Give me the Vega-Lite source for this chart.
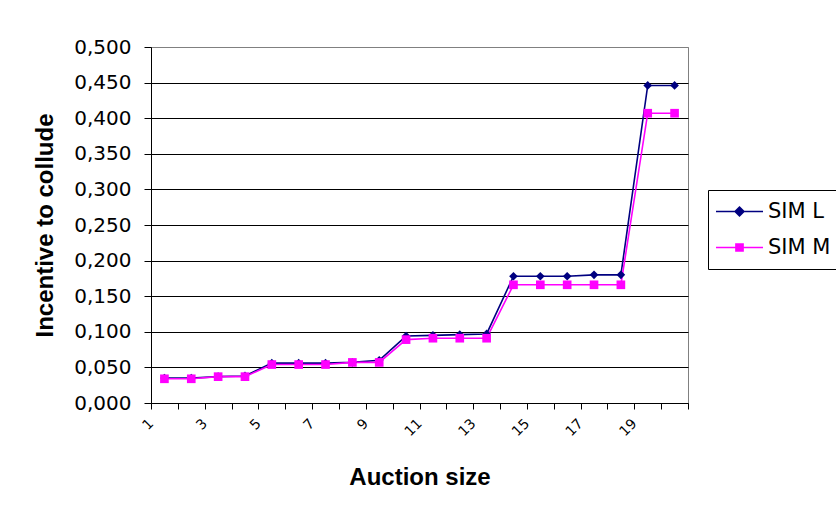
{
  "$schema": "https://vega.github.io/schema/vega-lite/v6.json",
  "width": 537,
  "height": 356,
  "autosize": {"type": "none"},
  "padding": {"left": 151, "top": 47, "right": 148, "bottom": 110},
  "background": "white",
  "config": {
    "view": {"stroke": "#808080", "strokeWidth": 1},
    "font": "Liberation Sans"
  },
  "data": {
    "values": [
      {"size": 1, "series": "SIM L", "value": 0.035},
      {"size": 2, "series": "SIM L", "value": 0.035},
      {"size": 3, "series": "SIM L", "value": 0.037},
      {"size": 4, "series": "SIM L", "value": 0.038},
      {"size": 5, "series": "SIM L", "value": 0.056},
      {"size": 6, "series": "SIM L", "value": 0.056},
      {"size": 7, "series": "SIM L", "value": 0.056},
      {"size": 8, "series": "SIM L", "value": 0.057},
      {"size": 9, "series": "SIM L", "value": 0.060},
      {"size": 10, "series": "SIM L", "value": 0.094},
      {"size": 11, "series": "SIM L", "value": 0.095},
      {"size": 12, "series": "SIM L", "value": 0.096},
      {"size": 13, "series": "SIM L", "value": 0.097},
      {"size": 14, "series": "SIM L", "value": 0.178},
      {"size": 15, "series": "SIM L", "value": 0.178},
      {"size": 16, "series": "SIM L", "value": 0.178},
      {"size": 17, "series": "SIM L", "value": 0.180},
      {"size": 18, "series": "SIM L", "value": 0.180},
      {"size": 19, "series": "SIM L", "value": 0.446},
      {"size": 20, "series": "SIM L", "value": 0.446},
      {"size": 1, "series": "SIM M", "value": 0.034},
      {"size": 2, "series": "SIM M", "value": 0.034},
      {"size": 3, "series": "SIM M", "value": 0.037},
      {"size": 4, "series": "SIM M", "value": 0.037},
      {"size": 5, "series": "SIM M", "value": 0.054},
      {"size": 6, "series": "SIM M", "value": 0.054},
      {"size": 7, "series": "SIM M", "value": 0.054},
      {"size": 8, "series": "SIM M", "value": 0.057},
      {"size": 9, "series": "SIM M", "value": 0.057},
      {"size": 10, "series": "SIM M", "value": 0.089},
      {"size": 11, "series": "SIM M", "value": 0.091},
      {"size": 12, "series": "SIM M", "value": 0.091},
      {"size": 13, "series": "SIM M", "value": 0.091},
      {"size": 14, "series": "SIM M", "value": 0.166},
      {"size": 15, "series": "SIM M", "value": 0.166},
      {"size": 16, "series": "SIM M", "value": 0.166},
      {"size": 17, "series": "SIM M", "value": 0.166},
      {"size": 18, "series": "SIM M", "value": 0.166},
      {"size": 19, "series": "SIM M", "value": 0.407},
      {"size": 20, "series": "SIM M", "value": 0.407}
    ]
  },
  "encoding": {
    "x": {
      "field": "size",
      "type": "quantitative",
      "scale": {"domain": [0.5, 20.5], "nice": false, "zero": false},
      "axis": {
        "title": "Auction size",
        "titleFont": "Liberation Sans",
        "titleFontSize": 24,
        "titleFontWeight": "bold",
        "titleColor": "black",
        "titlePadding": 27,
        "values": [0.5, 1.5, 2.5, 3.5, 4.5, 5.5, 6.5, 7.5, 8.5, 9.5, 10.5, 11.5, 12.5, 13.5, 14.5, 15.5, 16.5, 17.5, 18.5, 19.5, 20.5],
        "labelExpr": "(datum.value + 0.5) <= 19 && (datum.value + 0.5) % 2 == 1 ? format(datum.value + 0.5, 'd') : ''",
        "labelAngle": -45,
        "labelAlign": "right",
        "labelBaseline": "middle",
        "labelPadding": 12,
        "labelFont": "DejaVu Sans",
        "labelFontSize": 14,
        "labelColor": "black",
        "labelOverlap": false,
        "labelFlush": false,
        "labelBound": false,
        "grid": false,
        "domainColor": "black",
        "domainWidth": 1,
        "tickColor": "black",
        "tickSize": 6,
        "tickWidth": 1
      }
    },
    "y": {
      "field": "value",
      "type": "quantitative",
      "scale": {"domain": [0, 0.5], "nice": false},
      "axis": {
        "title": "Incentive to collude",
        "titleFont": "Liberation Sans",
        "titleFontSize": 24,
        "titleFontWeight": "bold",
        "titleColor": "black",
        "titlePadding": 16,
        "values": [0, 0.05, 0.1, 0.15, 0.2, 0.25, 0.3, 0.35, 0.4, 0.45, 0.5],
        "labelExpr": "replace(format(datum.value, '.3f'), '.', ',')",
        "labelFont": "DejaVu Sans",
        "labelFontSize": 20,
        "labelColor": "black",
        "labelPadding": 13,
        "labelOverlap": false,
        "labelFlush": false,
        "grid": true,
        "gridColor": {"condition": {"test": "datum.value >= 0.5", "value": "#808080"}, "value": "black"},
        "gridWidth": 1,
        "gridOpacity": 1,
        "domainColor": "black",
        "domainWidth": 1,
        "tickColor": "black",
        "tickSize": 7,
        "tickWidth": 1
      }
    },
    "color": {
      "field": "series",
      "type": "nominal",
      "scale": {"domain": ["SIM L", "SIM M"], "range": ["#000080", "#FF00FF"]},
      "legend": null
    }
  },
  "layer": [
    {
      "mark": {"type": "line", "strokeWidth": 1.6}
    },
    {
      "mark": {"type": "point", "filled": true, "opacity": 1, "size": 75},
      "encoding": {
        "shape": {
          "field": "series",
          "type": "nominal",
          "scale": {"domain": ["SIM L", "SIM M"], "range": ["diamond", "square"]},
          "legend": null
        }
      }
    },
    {
      "mark": {"type": "point", "filled": false, "opacity": 0, "size": 100, "strokeWidth": 1.5},
      "encoding": {
        "color": {
          "field": "series",
          "type": "nominal",
          "legend": {
            "orient": "none", "legendX": 557, "legendY": 143, "title": null,
            "strokeColor": "black", "fillColor": "white", "padding": 11,
            "labelFont": "DejaVu Sans", "labelFontSize": 21, "labelColor": "black",
            "symbolSize": 100, "symbolStrokeWidth": 1.5, "symbolOffset": 10, "labelOffset": 18,
            "rowPadding": 14, "symbolOpacity": 1
          }
        },
        "shape": {
          "field": "series",
          "type": "nominal",
          "scale": {"domain": ["SIM L", "SIM M"], "range": [
            "M-4.7,0H4.7M0,-0.9L0.9,0L0,0.9L-0.9,0ZM0,-0.6L0.6,0L0,0.6L-0.6,0ZM0,-0.3L0.3,0L0,0.3L-0.3,0Z",
            "M-4.7,0H4.7M-0.72,-0.72H0.72V0.72H-0.72ZM-0.45,-0.45H0.45V0.45H-0.45ZM-0.18,-0.18H0.18V0.18H-0.18Z"
          ]},
          "legend": {
            "orient": "none", "legendX": 557, "legendY": 143, "title": null,
            "strokeColor": "black", "fillColor": "white", "padding": 11,
            "labelFont": "DejaVu Sans", "labelFontSize": 21, "labelColor": "black",
            "symbolSize": 100, "symbolStrokeWidth": 1.5, "symbolOffset": 10, "labelOffset": 18,
            "rowPadding": 14, "symbolOpacity": 1
          }
        }
      }
    }
  ],
  "resolve": {
    "scale": {"shape": "independent"},
    "legend": {"color": "independent", "shape": "independent"}
  }
}
